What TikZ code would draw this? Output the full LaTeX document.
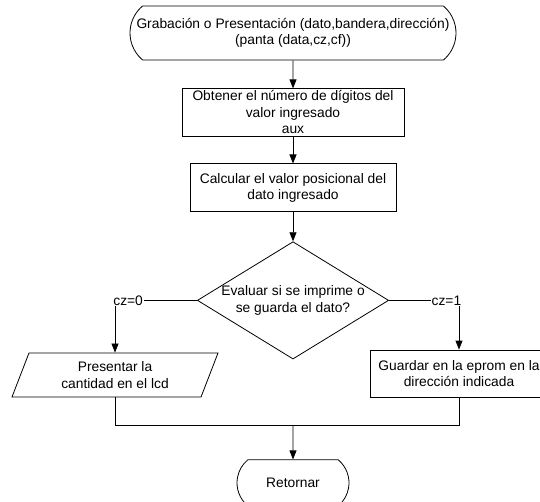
\documentclass[tikz,border=0pt]{standalone}
\usepackage{fontspec}
\setmainfont{Liberation Sans}
\usetikzlibrary{arrows.meta,positioning,shapes.geometric,shapes.misc}

\tikzset{
	terminal/.style={rounded rectangle, rounded rectangle arc length=100, draw, align=center, inner xsep=4pt},
	proceso/.style={rectangle, draw, align=center, inner sep=2pt},
	decision/.style={diamond, draw, aspect=1.63, inner sep=0pt, align=center, minimum width=189pt, minimum height=116pt},
	entrada/.style={trapezium, trapezium left angle=63, trapezium right angle=117, trapezium stretches body, draw, align=center},
	flecha/.style={-{Triangle[length=9pt,width=7pt]}},
	etiqueta/.style={fill=white, inner sep=1pt}
}

\begin{document}
\begin{tikzpicture}[x=1pt, y=1pt, line width=0.8pt, font=\fontsize{13.8}{16.5}\selectfont]
	\useasboundingbox (0,0) rectangle (540,-502);
	
	%inicio
	\node[terminal, minimum width=334pt, minimum height=54pt] (inicio) at (293,-33) {Grabación o Presentación (dato,bandera,dirección)\\(panta (data,cz,cf))};
	%digitos
	\node[proceso, below=28pt of inicio, minimum width=222pt, minimum height=47pt] (digitos) {Obtener el número de dígitos del\\valor ingresado\\aux};
	%posicional
	\node[proceso, below=27pt of digitos, minimum width=206pt, minimum height=48pt] (posicional) {Calcular el valor posicional del\\dato ingresado};
	%decision
	\node[decision, below=29pt of posicional] (evaluar) {Evaluar si se imprime o\\se guarda el dato?};
	%presentar
	\node[entrada, minimum width=206pt, minimum height=44pt] (presentar) at (115,-375) {Presentar la\\cantidad en el lcd};
	%guardar
	\node[proceso, minimum width=178pt, minimum height=47pt] (guardar) at (459,-373.5) {Guardar en la eprom en la\\dirección indicada};
	%retornar
	\node[terminal, below=100pt of evaluar, minimum width=120pt, minimum height=46pt] (retornar) {Retornar};
	%union
	\coordinate[above=34pt of retornar] (union);
	
	% secuencia
	\draw[flecha] (inicio) -- (digitos);
	\draw[flecha] (digitos) -- (posicional);
	\draw[flecha] (posicional) -- (evaluar);
	
	% ramas
	\draw[flecha] (evaluar.west) -| node[etiqueta, pos=0.42] {cz=0} (presentar.north);
	\draw[flecha] (evaluar.east) -| node[etiqueta, pos=0.41] {cz=1} (guardar.north);
	
	% fin
	\draw (presentar.south) |- (union) -| (guardar.south);
	\draw[flecha] (union) -- (retornar);
	
\end{tikzpicture}
\end{document}
